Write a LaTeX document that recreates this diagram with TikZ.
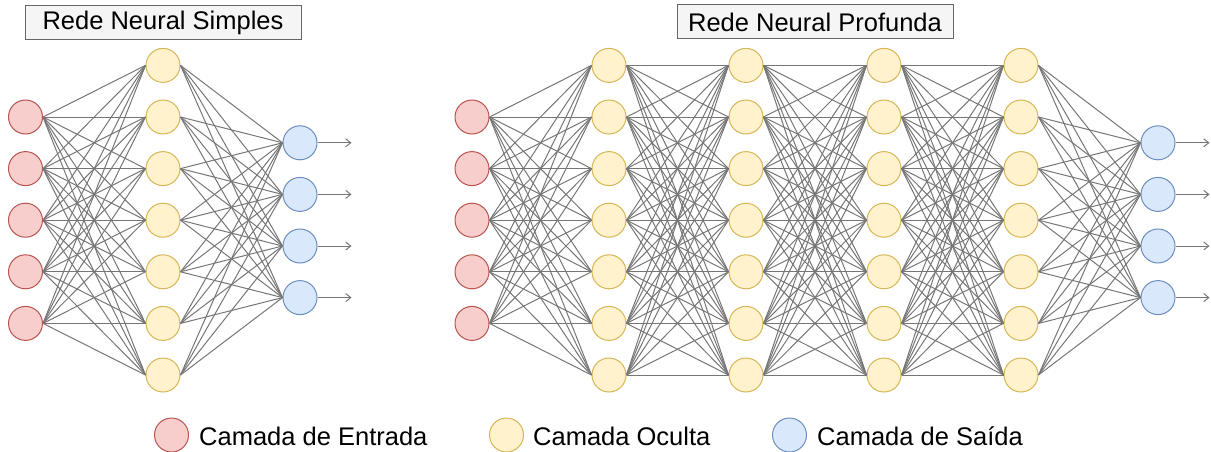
\documentclass[tikz,border=0pt]{standalone}
\usepackage{fontspec}
\setmainfont{Liberation Sans}
\usetikzlibrary{arrows.meta}

\definecolor{inFill}{HTML}{F8CECC}
\definecolor{inLine}{HTML}{B85450}
\definecolor{hidFill}{HTML}{FFF2CC}
\definecolor{hidLine}{HTML}{D6B656}
\definecolor{outFill}{HTML}{DAE8FC}
\definecolor{outLine}{HTML}{6C8EBF}
\definecolor{wire}{HTML}{767676}
\definecolor{titleFill}{HTML}{F5F5F5}
\definecolor{titleLine}{HTML}{666666}

\begin{document}
\begin{tikzpicture}[x=1pt,y=-1pt,
  neuron/.style={circle,minimum size=34pt,inner sep=0pt,line width=1pt},
  inneuron/.style={neuron,fill=inFill,draw=inLine},
  hidneuron/.style={neuron,fill=hidFill,draw=hidLine},
  outneuron/.style={neuron,fill=outFill,draw=outLine},
  link/.style={draw=wire,line width=1pt},
  outarrow/.style={draw=wire,line width=1pt,-{Straight Barb[length=5pt,width=8pt]}},
  titlebox/.style={draw=titleLine,fill=titleFill,line width=1pt,
    minimum width=276pt,minimum height=34pt,inner sep=0pt,
    font=\fontsize{25.5}{30}\selectfont},
  legendtext/.style={anchor=base west,inner sep=0pt,
    font=\fontsize{25.5}{30}\selectfont}]
\useasboundingbox (0,0) rectangle (1211,452);

% titles
\node[titlebox] (tsimple) at (163,23) {Rede Neural Simples};
\node[titlebox] (tdeep) at (815,22) {Rede Neural Profunda};

% ---------- simple network ----------
\foreach \i in {1,...,5}
  \node[inneuron] (s-in-\i) at (25.5,{117+51.6*(\i-1)}) {};
\foreach \j in {1,...,7}
  \node[hidneuron] (s-h-\j) at (163,{65.4+51.6*(\j-1)}) {};
\foreach \k in {1,...,4}
  \node[outneuron] (s-out-\k) at (300,{142.8+51.6*(\k-1)}) {};

\foreach \i in {1,...,5}
  \foreach \j in {1,...,7}
    \draw[link] (s-in-\i.east) -- (s-h-\j.west);
\foreach \j in {1,...,7}
  \foreach \k in {1,...,4}
    \draw[link] (s-h-\j.east) -- (s-out-\k.west);
\foreach \k in {1,...,4} {
  \coordinate (s-end-\k) at ([xshift=34pt]s-out-\k.east);
  \draw[outarrow] (s-out-\k.east) -- (s-end-\k);
}

% ---------- deep network ----------
\foreach \i in {1,...,5}
  \node[inneuron] (d-in-\i) at (472,{117+51.6*(\i-1)}) {};
\foreach \x [count=\l] in {609,746,884,1021}
  \foreach \j in {1,...,7}
    \node[hidneuron] (d-h\l-\j) at (\x,{65.4+51.6*(\j-1)}) {};
\foreach \k in {1,...,4}
  \node[outneuron] (d-out-\k) at (1158,{142.8+51.6*(\k-1)}) {};

\foreach \i in {1,...,5}
  \foreach \j in {1,...,7}
    \draw[link] (d-in-\i.east) -- (d-h1-\j.west);
\foreach \a/\b in {1/2,2/3,3/4}
  \foreach \i in {1,...,7}
    \foreach \j in {1,...,7}
      \draw[link] (d-h\a-\i.east) -- (d-h\b-\j.west);
\foreach \j in {1,...,7}
  \foreach \k in {1,...,4}
    \draw[link] (d-h4-\j.east) -- (d-out-\k.west);
\foreach \k in {1,...,4} {
  \coordinate (d-end-\k) at ([xshift=34pt]d-out-\k.east);
  \draw[outarrow] (d-out-\k.east) -- (d-end-\k);
}

% ---------- legend ----------
\node[inneuron] (lg-in) at (171.5,435) {};
\node[legendtext] (lg-in-t) at (199,445) {Camada de Entrada};
\node[hidneuron] (lg-hid) at (506.5,435) {};
\node[legendtext] (lg-hid-t) at (533,445) {Camada Oculta};
\node[outneuron] (lg-out) at (789.5,435) {};
\node[legendtext] (lg-out-t) at (817,445) {Camada de Saída};
\end{tikzpicture}
\end{document}
